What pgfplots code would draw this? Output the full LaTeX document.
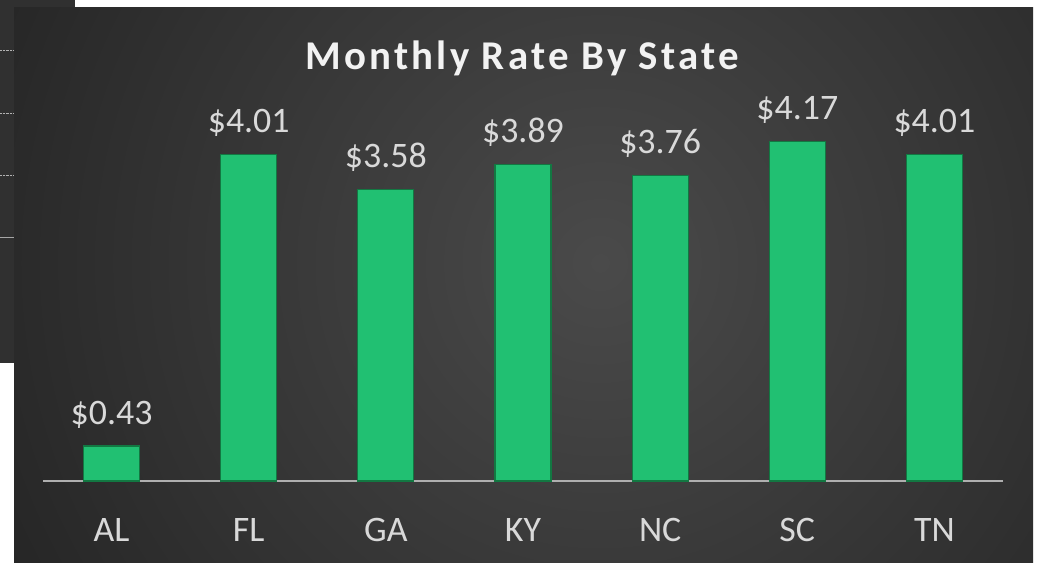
\documentclass[border=0pt]{standalone}
\usepackage{pgfplots}
\pgfplotsset{compat=1.18}
\usepackage{fontspec}
\setmainfont{Carlito}
\definecolor{barg}{RGB}{33,192,114}
\definecolor{bard}{RGB}{18,120,66}
\definecolor{bgin}{RGB}{74,74,74}
\definecolor{bgout}{RGB}{37,37,37}
\definecolor{backc}{RGB}{48,48,48}
\definecolor{txt}{RGB}{217,217,217}
\definecolor{axl}{RGB}{175,175,175}
\begin{document}
\begin{tikzpicture}[x=1bp,y=1bp]
\useasboundingbox (0,0) rectangle (1038,563);
\fill[white] (0,0) rectangle (1038,563);
% chart behind
\fill[backc] (0,200) rectangle (75,563);
\draw[gray!60,densely dotted] (0,513) -- (75,513);
\draw[gray!60,densely dotted] (0,450) -- (75,450);
\draw[gray!60,densely dotted] (0,388) -- (75,388);
\draw[gray!70,line width=1bp] (0,325) -- (75,325);
% main panel
\begin{scope}
\clip (14,0) rectangle (1033,555);
\fill[bgout] (14,0) rectangle (1033,555);
\shade[inner color=bgin, outer color=bgout] (600,300) circle (680);
\end{scope}
\node[text=white!95!black,font=\bfseries\fontsize{41}{44}\selectfont\addfontfeatures{LetterSpace=8}] at (522,505) {Monthly Rate By State};
\begin{axis}[
  at={(43bp,82bp)}, anchor=south west,
  scale only axis, width=960bp, height=401bp,
  xmin=-0.5, xmax=6.5, ymin=0, ymax=4.93,
  axis x line*=bottom, axis y line=none,
  axis line style={-, draw=axl, line width=2bp},
  xtick=data, xticklabels={AL,FL,GA,KY,NC,SC,TN},
  major tick length=0pt,
  ticklabel style={text=txt, font=\fontsize{36}{40}\selectfont},
  xticklabel style={anchor=base, yshift=-61bp},
  ybar, bar width=56bp,
  /pgf/number format/assume math mode=true,
  nodes near coords={\$\pgfmathprintnumber[fixed,fixed zerofill,precision=2,assume math mode=true]{\pgfplotspointmeta}},
  nodes near coords style={text=txt, font=\fontsize{36}{40}\selectfont, anchor=base, yshift=22bp},
  clip=false,
]
\addplot[fill=barg, draw=bard, line width=1.2bp] coordinates {(0,0.43) (1,4.01) (2,3.58) (3,3.89) (4,3.76) (5,4.17) (6,4.01)};
\end{axis}
\end{tikzpicture}
\end{document}
